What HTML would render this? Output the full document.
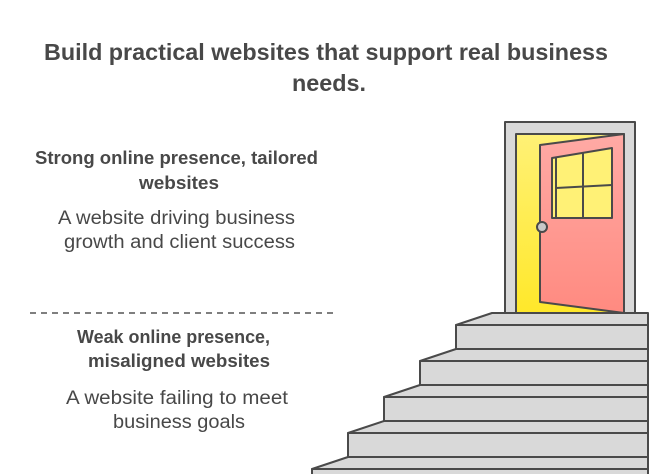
<!DOCTYPE html>
<html><head><meta charset="utf-8"><style>
html,body{margin:0;padding:0;background:#fff;}
svg{display:block;}
text{font-family:"Liberation Sans",sans-serif;fill:#484848;text-anchor:middle;}
.t{font-size:23px;font-weight:bold;}
.h{font-size:18px;font-weight:bold;}
.b{font-size:19px;}
</style></head><body>
<svg width="672" height="474" viewBox="0 0 672 474" xmlns="http://www.w3.org/2000/svg">
<defs>
<linearGradient id="y" x1="0" y1="0" x2="0" y2="1"><stop offset="0" stop-color="#fff176"/><stop offset="1" stop-color="#ffe82a"/></linearGradient>
<linearGradient id="r" x1="0" y1="0" x2="0" y2="1"><stop offset="0" stop-color="#ffaaa5"/><stop offset="1" stop-color="#ff8a80"/></linearGradient>
</defs>
<text class="t" x="326" y="60" textLength="564" lengthAdjust="spacingAndGlyphs">Build practical websites that support real business</text>
<text class="t" x="329" y="91" textLength="74" lengthAdjust="spacingAndGlyphs">needs.</text>
<text class="h" x="176.5" y="164" textLength="283" lengthAdjust="spacingAndGlyphs">Strong online presence, tailored</text>
<text class="h" x="179" y="189" textLength="80" lengthAdjust="spacingAndGlyphs">websites</text>
<text class="b" x="176.5" y="224" textLength="237" lengthAdjust="spacingAndGlyphs">A website driving business</text>
<text class="b" x="179.5" y="248" textLength="231" lengthAdjust="spacingAndGlyphs">growth and client success</text>
<line x1="30" y1="313" x2="336" y2="313" stroke="#555" stroke-width="1.5" stroke-dasharray="6,5"/>
<text class="h" x="173.5" y="343" textLength="193" lengthAdjust="spacingAndGlyphs">Weak online presence,</text>
<text class="h" x="179" y="367" textLength="182" lengthAdjust="spacingAndGlyphs">misaligned websites</text>
<text class="b" x="177" y="404" textLength="222" lengthAdjust="spacingAndGlyphs">A website failing to meet</text>
<text class="b" x="179" y="428" textLength="132" lengthAdjust="spacingAndGlyphs">business goals</text>
<g stroke="#4a4a4a" stroke-width="2" stroke-linejoin="round">
<rect x="505" y="122" width="130" height="191" fill="#d9d9d9"/>
<rect x="516" y="134" width="108" height="179" fill="url(#y)"/>
<polygon points="540,145 624,134 624,313 540,302" fill="url(#r)"/>
<polygon points="552,158 612,148 612,218 552,218" fill="#fff176"/>
<line x1="556" y1="157" x2="556" y2="218"/>
<line x1="583" y1="153" x2="583" y2="218"/>
<line x1="556" y1="188" x2="612" y2="185"/>
<circle cx="542" cy="227" r="5" fill="#c8c8c8"/>
<g fill="#d9d9d9">
<polygon points="312,469 348,457 648,457 648,480 312,480"/>
<rect x="312" y="469" width="336" height="12"/>
<polygon points="348,433 384,421 648,421 648,433"/>
<rect x="348" y="433" width="300" height="24"/>
<polygon points="384,397 420,385 648,385 648,397"/>
<rect x="384" y="397" width="264" height="24"/>
<polygon points="420,361 456,349 648,349 648,361"/>
<rect x="420" y="361" width="228" height="24"/>
<polygon points="456,325 492,313 648,313 648,325"/>
<rect x="456" y="325" width="192" height="24"/>
</g>
</g>
</svg>
</body></html>
